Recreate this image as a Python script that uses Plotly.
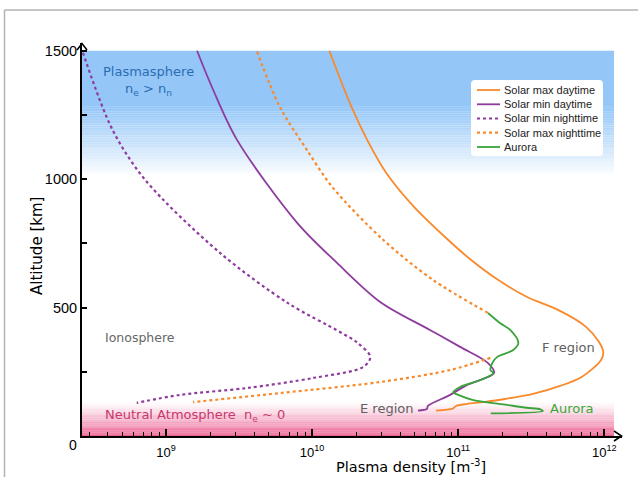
import numpy as np
import plotly.graph_objects as go

# ---- profile data: altitude [km] and plasma density [m^-3] ----
alt_max_day = [1500, 1278, 1153, 1025, 892, 764, 686, 608, 541, 491, 425, 366, 327, 296,
               230, 195, 164, 144, 132, 125, 117, 107, 99]
ne_max_day = [1.31e10, 1.87e10, 2.38e10, 3.21e10, 4.98e10, 8.51e10, 1.22e11, 1.87e11,
              2.96e11, 4.82e11, 7.5e11, 9.2e11, 9.84e11, 9.5e11, 7.0e11, 4.98e11, 3.25e11,
              2.09e11, 1.48e11, 1.15e11, 9.66e10, 9.2e10, 7.05e10]

alt_min_day = [1500, 1348, 1153, 830, 674, 522, 413, 347, 284, 245, 199, 160, 117, 105, 99]
ne_min_day = [1.63e9, 2.1e9, 3.06e9, 7.9e9, 1.48e10, 2.92e10, 6.4e10, 1.03e11, 1.6e11,
              1.76e11, 1.15e11, 8.8e10, 6.2e10, 6.1e10, 5.3e10]

alt_min_night = [1492, 1192, 997, 713, 518, 405, 362, 308, 269, 226, 187, 160, 129]
ne_min_night = [2.7e8, 4.3e8, 7.2e8, 2.34e9, 6.8e9, 1.55e10, 2.05e10, 2.5e10, 2.24e10,
                1.02e10, 3.6e9, 1.25e9, 6.3e8]

# the night-time solar-max profile is hidden behind the auroral profile near its peak
alt_max_night = [1496, 1282, 1114, 966, 764, 608, 479, None, 304, 257, 210, 167, 132]
ne_max_night = [4.2e9, 6.0e9, 9.2e9, 1.39e10, 3.06e10, 6.7e10, 1.6e11, None, 1.66e11,
                8.8e10, 2.9e10, 6.0e9, 1.53e9]

alt_aurora = [479, 440, 413, 362, 335, 308, 284, 257, 245, 218, 191, 171, 160, 140, 121,
              110, 104, 97, 88]
ne_aurora = [1.6e11, 1.93e11, 2.27e11, 2.58e11, 2.38e11, 1.85e11, 1.71e11, 1.66e11,
             1.74e11, 1.42e11, 1.03e11, 9.25e10, 1.0e11, 1.27e11, 2.15e11, 2.94e11,
             3.65e11, 3.8e11, 1.67e11]

x_ticks = [9, 10, 11, 12]
y_ticks = [500, 1000, 1500]
y_minor = [250, 750, 1250]

ORANGE = "#f98a2b"
PURPLE = "#8e3b9e"
GREEN = "#38a43a"

X_RANGE = [8.4247, 12.121]
Y_RANGE = [0, 1530]

# plot-area geometry in pixels (used to place decorations in paper units)
L, R, T, B = 82, 622, 43, 436


def paper(px, py):
    return (px - L) / (R - L), (B - py) / (B - T)


fig = go.Figure()

series = [
    ("Solar max daytime", ne_max_day, alt_max_day, ORANGE, "solid", 1.8),
    ("Solar min daytime", ne_min_day, alt_min_day, PURPLE, "solid", 1.8),
    ("Solar min nighttime", ne_min_night, alt_min_night, PURPLE, "dot", 2.2),
    ("Solar max nighttime", ne_max_night, alt_max_night, ORANGE, "dot", 2.2),
    ("Aurora", ne_aurora, alt_aurora, GREEN, "solid", 1.8),
]
for name, xs, ys, col, dash, w in series:
    fig.add_trace(go.Scatter(x=xs, y=ys, mode="lines", name=name, showlegend=False,
                             line=dict(color=col, dash=dash, width=w,
                                       shape="spline", smoothing=0.9),
                             connectgaps=False))

# ---- background bands: plasmasphere (blue) and neutral atmosphere (pink) ----
shapes = []
band_right = paper(614, 0)[0]
blue = np.array([148, 199, 248])
shapes.append(dict(type="rect", xref="paper", yref="y", x0=0, x1=band_right,
                   y0=1282, y1=1500, fillcolor="rgb(148,199,248)", line_width=0,
                   layer="below"))
edges = np.linspace(1015, 1282, 41)
for i in range(40):
    t = ((i + 0.5) / 40.0) ** 0.9
    c = (255 - (255 - blue) * t).astype(int)
    shapes.append(dict(type="rect", xref="paper", yref="y", x0=0, x1=band_right,
                       y0=edges[i], y1=edges[i + 1] + 0.5,
                       fillcolor=f"rgb({c[0]},{c[1]},{c[2]})", line_width=0,
                       layer="below"))
pink = np.array([236, 90, 142])
edges = np.linspace(0, 135, 41)
for i in range(40):
    t = (1 - (i + 0.5) / 40.0) ** 1.2
    c = (255 - (255 - pink) * t).astype(int)
    shapes.append(dict(type="rect", xref="paper", yref="y", x0=0, x1=band_right,
                       y0=edges[i], y1=edges[i + 1] + 0.5,
                       fillcolor=f"rgb({c[0]},{c[1]},{c[2]})", line_width=0,
                       layer="below"))

# thin grey frame around the figure (top and left edges)
frame = "#b3b3b3"
fx0, fy0 = paper(4.5, 10)
fx1, fy1 = paper(640, 480)
shapes.append(dict(type="line", xref="paper", yref="paper", x0=fx0, x1=fx1,
                   y0=fy0, y1=fy0, line=dict(color=frame, width=1.5)))
shapes.append(dict(type="line", xref="paper", yref="paper", x0=fx0, x1=fx0,
                   y0=fy0, y1=fy1, line=dict(color=frame, width=1.5)))


# open arrow heads at the ends of both axes
def chevron(points):
    pts = [paper(px, py) for px, py in points]
    return "M{},{} L{},{} L{},{}".format(*[v for p in pts for v in p])


shapes.append(dict(type="path", xref="paper", yref="paper",
                   path=chevron([(614, 431), (621.5, 436), (614, 441)]),
                   line=dict(color="black", width=1.6)))
shapes.append(dict(type="path", xref="paper", yref="paper",
                   path=chevron([(77, 50), (82, 43.5), (87, 50)]),
                   line=dict(color="black", width=1.6)))

# ---- legend box ----
lx0, ly0 = paper(471, 80)
lx1, ly1 = paper(603, 156)
rx, ry = 4 / (R - L), 4 / (B - T)
box = (f"M{lx0 + rx},{ly0} L{lx1 - rx},{ly0} Q{lx1},{ly0} {lx1},{ly0 - ry} "
       f"L{lx1},{ly1 + ry} Q{lx1},{ly1} {lx1 - rx},{ly1} L{lx0 + rx},{ly1} "
       f"Q{lx0},{ly1} {lx0},{ly1 + ry} L{lx0},{ly0 - ry} Q{lx0},{ly0} {lx0 + rx},{ly0} Z")
shapes.append(dict(type="path", xref="paper", yref="paper", path=box,
                   fillcolor="white", line=dict(width=0)))

SANS = "DejaVu Sans"
annotations = []
row_y = [90, 104.3, 118.5, 132.7, 147]
for (name, _, _, col, dash, w), py in zip(series, row_y):
    sx0, sy = paper(477, py)
    sx1, _ = paper(500, py)
    shapes.append(dict(type="line", xref="paper", yref="paper", x0=sx0, x1=sx1,
                       y0=sy, y1=sy, line=dict(color=col, dash=dash, width=w)))
    tx, _ = paper(502, py)
    annotations.append(dict(xref="paper", yref="paper", x=tx, y=sy, text=name,
                            xanchor="left", yanchor="middle", showarrow=False,
                            font=dict(family="Liberation Sans", size=11, color="#222222")))

# region labels
region_labels = [
    (8.877, 1381, "Plasmasphere<br>n<sub>e</sub> > n<sub>n</sub>", 13, "#2b6db2"),
    (8.822, 382, "Ionosphere", 12.5, "#666666"),
    (9.198, 78, "Neutral Atmosphere\u00a0\u00a0n<sub>e</sub> ~ 0", 13, "#c8386e"),
    (10.506, 109, "E region", 13, "#606060"),
    (11.752, 343, "F region", 13, "#606060"),
    (11.772, 109, "Aurora", 13, "#3aa83a"),
]
for x, y, text, size, col in region_labels:
    annotations.append(dict(xref="x", yref="y", x=x, y=y, text=text, showarrow=False,
                            xanchor="center", yanchor="middle",
                            font=dict(family=SANS, size=size, color=col)))

# axis titles and the shared origin label
tx, ty = paper(411, 466)
annotations.append(dict(xref="paper", yref="paper", x=tx, y=ty,
                        text="Plasma density [m<sup>-3</sup>]", showarrow=False,
                        xanchor="center", yanchor="middle",
                        font=dict(family=SANS, size=14.5, color="black")))
tx, ty = paper(37, 246)
annotations.append(dict(xref="paper", yref="paper", x=tx, y=ty, text="Altitude [km]",
                        textangle=-90, showarrow=False, xanchor="center", yanchor="middle",
                        font=dict(family=SANS, size=15, color="black")))
tx, ty = paper(73, 445)
annotations.append(dict(xref="paper", yref="paper", x=tx, y=ty, text="0", showarrow=False,
                        xanchor="center", yanchor="middle",
                        font=dict(family="Liberation Sans", size=14, color="black")))

fig.update_layout(
    width=638, height=477,
    margin=dict(l=L, r=638 - R, t=T, b=477 - B),
    paper_bgcolor="white", plot_bgcolor="rgba(0,0,0,0)",
    shapes=shapes, annotations=annotations, showlegend=False,
    xaxis=dict(type="log", range=X_RANGE, showgrid=False, zeroline=False,
               showline=True, linecolor="black", linewidth=2,
               tickmode="array", tickvals=[10 ** v for v in x_ticks],
               ticktext=[f"10<sup>{v}</sup>" for v in x_ticks],
               ticks="inside", ticklen=7, tickwidth=1.5, tickcolor="black",
               ticklabelstandoff=3,
               minor=dict(ticks="inside", ticklen=4, tickwidth=1.2, tickcolor="black",
                          dtick="D1", showgrid=False),
               tickfont=dict(family="Liberation Sans", size=13, color="black")),
    yaxis=dict(range=Y_RANGE, showgrid=False, zeroline=False,
               showline=True, linecolor="black", linewidth=2,
               tickmode="array", tickvals=y_ticks, ticktext=[str(v) for v in y_ticks],
               ticks="inside", ticklen=5, tickwidth=1.5, tickcolor="black",
               minor=dict(tickmode="array", tickvals=y_minor, ticks="inside", ticklen=5,
                          tickwidth=1.5, tickcolor="black", showgrid=False),
               tickfont=dict(family="Liberation Sans", size=14.5, color="black")),
)

fig.write_html("out.html")
